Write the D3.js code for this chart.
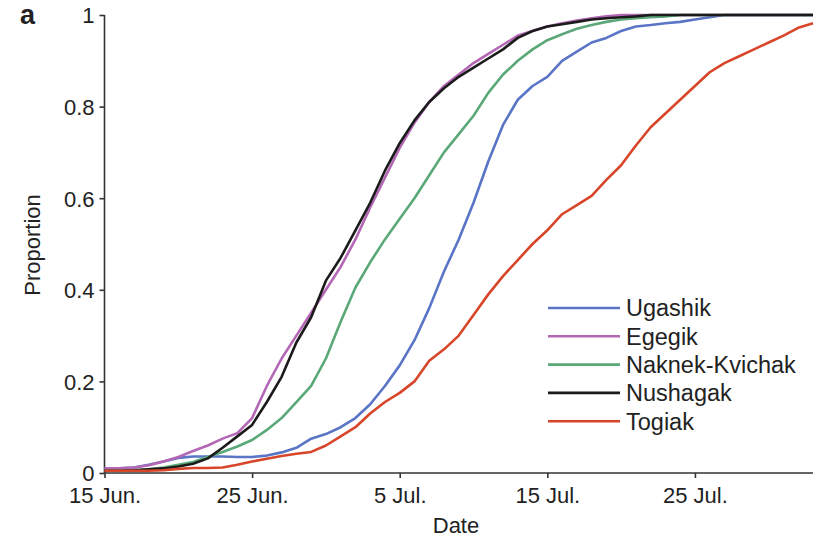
<!DOCTYPE html>
<html>
<head>
<meta charset="utf-8">
<script src="https://cdn.jsdelivr.net/npm/d3@7"></script>
<style>
  body { margin: 0; background: #fff; }
  svg text { font-family: "Liberation Sans", Arial, Helvetica, sans-serif; fill: #222; }
</style>
</head>
<body>
<svg id="chart" width="817" height="541"></svg>
<script>
// days since 15 June, one value per day
var startDate = new Date(2000, 5, 15);
var endDate = new Date(2000, 7, 2);

var tickDates = [new Date(2000, 5, 15), new Date(2000, 5, 25), new Date(2000, 6, 5), new Date(2000, 6, 15), new Date(2000, 6, 25)];
var tickLabels = ["15 Jun.", "25 Jun.", "5 Jul.", "15 Jul.", "25 Jul."];
var yTicks = [0, 0.2, 0.4, 0.6, 0.8, 1];
var yTickLabels = ["0", "0.2", "0.4", "0.6", "0.8", "1"];

var seriesNames = ["Ugashik", "Egegik", "Naknek-Kvichak", "Nushagak", "Togiak"];
var seriesColors = ["#5a74c6", "#b467b5", "#5aa878", "#1b1b1b", "#d8462a"];

var ugashik = [0.01, 0.01, 0.012, 0.018, 0.025, 0.033, 0.036, 0.036, 0.036, 0.035,
  0.035, 0.038, 0.045, 0.055, 0.075, 0.085, 0.1, 0.12, 0.15, 0.19,
  0.235, 0.29, 0.36, 0.44, 0.51, 0.59, 0.68, 0.76, 0.815, 0.845,
  0.865, 0.9, 0.92, 0.94, 0.95, 0.965, 0.975, 0.978, 0.982, 0.985,
  0.99, 0.995, 1, 1, 1, 1, 1, 1, 1];
var egegik = [0.01, 0.01, 0.012, 0.017, 0.025, 0.035, 0.048, 0.06, 0.075, 0.087,
  0.12, 0.19, 0.25, 0.3, 0.35, 0.4, 0.45, 0.51, 0.58, 0.645,
  0.71, 0.765, 0.81, 0.845, 0.87, 0.895, 0.915, 0.935, 0.955, 0.965,
  0.975, 0.982, 0.988, 0.993, 0.997, 1, 1, 1, 1, 1,
  1, 1, 1, 1, 1, 1, 1, 1, 1];
var naknek = [0.005, 0.005, 0.006, 0.008, 0.012, 0.018, 0.024, 0.035, 0.046, 0.058,
  0.072, 0.094, 0.12, 0.155, 0.19, 0.25, 0.33, 0.405, 0.46, 0.51,
  0.555, 0.6, 0.65, 0.7, 0.74, 0.78, 0.83, 0.87, 0.9, 0.925,
  0.945, 0.958, 0.97, 0.978, 0.985, 0.99, 0.993, 0.995, 0.997, 1,
  1, 1, 1, 1, 1, 1, 1, 1, 1];
var nushagak = [0.005, 0.005, 0.006, 0.008, 0.01, 0.014, 0.02, 0.032, 0.055, 0.08,
  0.105, 0.155, 0.21, 0.285, 0.34, 0.42, 0.47, 0.53, 0.59, 0.66,
  0.72, 0.77, 0.81, 0.84, 0.865, 0.885, 0.905, 0.925, 0.95, 0.965,
  0.975, 0.98, 0.985, 0.99, 0.993, 0.995, 0.997, 1, 1, 1,
  1, 1, 1, 1, 1, 1, 1, 1, 1];
var togiak = [0.005, 0.005, 0.005, 0.005, 0.006, 0.009, 0.011, 0.011, 0.012, 0.018,
  0.025, 0.031, 0.037, 0.042, 0.046, 0.06, 0.08, 0.1, 0.13, 0.155,
  0.175, 0.2, 0.245, 0.27, 0.3, 0.345, 0.39, 0.43, 0.465, 0.5,
  0.53, 0.565, 0.585, 0.605, 0.64, 0.672, 0.715, 0.755, 0.785, 0.815,
  0.845, 0.875, 0.895, 0.91, 0.925, 0.94, 0.955, 0.972, 0.982];

var seriesValues = [ugashik, egegik, naknek, nushagak, togiak];

var margin = {left: 104.5, right: 4, top: 15, bottom: 68};
var width = 817, height = 541;

var svg = d3.select("#chart");

var x = d3.scaleTime()
  .domain([startDate, endDate])
  .range([margin.left, width - margin.right]);
var y = d3.scaleLinear()
  .domain([0, 1])
  .range([height - margin.bottom, margin.top]);

// axes
var xAxis = d3.axisBottom(x)
  .tickValues(tickDates)
  .tickSize(5)
  .tickPadding(9)
  .tickFormat(function(d, i) { return tickLabels[i]; });
var yAxis = d3.axisLeft(y)
  .tickValues(yTicks)
  .tickSize(5)
  .tickPadding(5)
  .tickFormat(function(d, i) { return yTickLabels[i]; });

var gx = svg.append("g")
  .attr("transform", "translate(0," + y(0) + ")")
  .call(xAxis);
var gy = svg.append("g")
  .attr("transform", "translate(" + margin.left + ",0)")
  .call(yAxis);

[gx, gy].forEach(function(g) {
  g.select(".domain").attr("stroke", "#333").attr("stroke-width", 1.6);
  g.selectAll(".tick line").attr("stroke", "#333").attr("stroke-width", 1.6);
  g.selectAll(".tick text")
    .attr("font-size", 22)
    .attr("font-family", "'Liberation Sans', Arial, sans-serif")
    .attr("fill", "#222");
});
gy.select(".domain").attr("d", "M0," + y(0) + "V" + y(1));
gx.select(".domain").attr("d", "M" + x(startDate) + ",0H" + x(endDate));
gx.selectAll(".tick text").attr("dy", "0.72em");
gy.selectAll(".tick text").attr("dy", "0.36em");

// lines
var line = d3.line()
  .x(function(d, i) { return x(d3.timeDay.offset(startDate, i)); })
  .y(function(d) { return y(d); });

svg.append("g")
  .selectAll("path")
  .data(seriesValues)
  .enter().append("path")
  .attr("fill", "none")
  .attr("stroke", function(d, i) { return seriesColors[i]; })
  .attr("stroke-width", 2.6)
  .attr("stroke-linejoin", "round")
  .attr("d", line);

// legend
var legend = svg.append("g")
  .selectAll("g")
  .data(seriesNames)
  .enter().append("g")
  .attr("transform", function(d, i) { return "translate(548," + (308 + i * 28.3) + ")"; });

legend.append("line")
  .attr("x1", 0).attr("x2", 72)
  .attr("stroke", function(d, i) { return seriesColors[i]; })
  .attr("stroke-width", 2.6);
legend.append("text")
  .attr("x", 78)
  .attr("dy", "0.36em")
  .attr("font-size", 23.5)
  .text(function(d) { return d; });

// titles
svg.append("text")
  .attr("x", 456)
  .attr("y", 533)
  .attr("text-anchor", "middle")
  .attr("font-size", 22)
  .text("Date");

svg.append("text")
  .attr("transform", "translate(40,245) rotate(-90)")
  .attr("text-anchor", "middle")
  .attr("font-size", 22)
  .text("Proportion");

svg.append("text")
  .attr("x", 20)
  .attr("y", 24)
  .attr("font-size", 27)
  .attr("font-weight", "bold")
  .text("a");
</script>
</body>
</html>
